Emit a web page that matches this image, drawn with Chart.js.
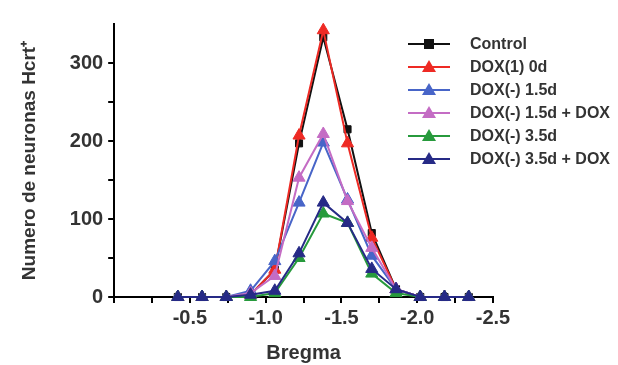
<!DOCTYPE html>
<html>
<head>
<meta charset="utf-8">
<script src="https://cdn.jsdelivr.net/npm/chart.js@4.4.1/dist/chart.umd.min.js"></script>
<style>
    html, body { margin: 0; padding: 0; background: #fff; }
    #wrap { position: relative; width: 618px; height: 365px; }
    #legend { position: absolute; left: 408px; top: 32px; font: bold 16px "Liberation Sans", Arial, sans-serif; color: #333; }
    .row { display: flex; align-items: center; height: 23px; }
    .row svg { margin-right: 20px; }
</style>
</head>
<body>
<div id="wrap">
    <canvas id="chart" width="618" height="365"></canvas>
    <div id="legend"></div>
</div>
<script>
// Bregma positions (mm) where neurons were counted
const bregma = [-0.42, -0.58, -0.74, -0.90, -1.06, -1.22, -1.38, -1.54, -1.70, -1.86, -2.02, -2.18, -2.34];

const seriesNames = ['Control', 'DOX(1) 0d', 'DOX(-) 1.5d', 'DOX(-) 1.5d + DOX', 'DOX(-) 3.5d', 'DOX(-) 3.5d + DOX'];
const control     = [0, 0, 0, 3, 35, 197, 333, 215, 82, 10, 0, 0, 0];
const dox0d       = [0, 0, 0, 3, 35, 207, 342, 197, 76, 10, 0, 0, 0];
const dox15d      = [0, 0, 0, 8, 46, 121, 198, 125, 53, 10, 0, 0, 0];
const dox15dDox   = [0, 0, 0, 5, 27, 153, 209, 123, 63, 10, 0, 0, 0];
const dox35d      = [0, 0, 0, 0, 5, 50, 107, 95, 30, 5, 0, 0, 0];
const dox35dDox   = [0, 0, 0, 3, 8, 56, 121, 95, 36, 10, 0, 0, 0];

const xTicks = [-0.5, -1.0, -1.5, -2.0, -2.5];
const yTicks = [0, 100, 200, 300];

const colors = ['#111111', '#ee2a24', '#4865c8', '#c46cc4', '#279a3c', '#262a86'];
const shapes = ['rect', 'triangle', 'triangle', 'triangle', 'triangle', 'triangle'];
const values = [control, dox0d, dox15d, dox15dDox, dox35d, dox35dDox];

const font = '"Liberation Sans", Arial, sans-serif';

const datasets = values.map((vals, i) => ({
    label: seriesNames[i],
    data: vals.map((v, j) => ({ x: bregma[j], y: v })),
    borderColor: colors[i],
    backgroundColor: colors[i],
    borderWidth: 2,
    pointStyle: shapes[i],
    pointRadius: shapes[i] === 'rect' ? 5 : 7,
    pointBorderWidth: 1,
    order: values.length - i,   // later series sit on top
    clip: false,
    tension: 0
}));

new Chart(document.getElementById('chart'), {
    type: 'line',
    data: { datasets },
    options: {
        responsive: false,
        animation: false,
        layout: { padding: { left: 10, right: 125, top: 24, bottom: 0 } },
        plugins: { legend: { display: false }, tooltip: { enabled: false } },
        scales: {
            x: {
                type: 'linear',
                reverse: true,
                min: -2.5,
                max: 0,
                ticks: {
                    stepSize: 0.25,
                    autoSkip: false,
                    maxRotation: 0,
                    color: '#333',
                    font: { family: font, size: 20, weight: 'bold' },
                    callback: v => xTicks.some(t => Math.abs(t - v) < 1e-6) ? v.toFixed(1) : ''
                },
                grid: { drawOnChartArea: false, color: '#000', lineWidth: 2, tickLength: 6 },
                border: { color: '#000', width: 2 },
                title: { display: true, text: 'Bregma', color: '#333', font: { family: font, size: 20, weight: 'bold' }, padding: { top: 8, bottom: 0 } }
            },
            y: {
                min: 0,
                max: 350,
                afterBuildTicks: axis => { axis.ticks = axis.ticks.filter(t => t.value < 350); },
                ticks: {
                    stepSize: 50,
                    padding: 5,
                    color: '#333',
                    font: { family: font, size: 20, weight: 'bold' },
                    callback: v => yTicks.includes(v) ? v : ''
                },
                grid: { drawOnChartArea: false, color: '#000', lineWidth: 2, tickLength: 6 },
                border: { color: '#000', width: 2 },
                title: { display: true, text: 'Numero de neuronas Hcrt⁺', color: '#333', font: { family: font, size: 19, weight: 'bold' }, padding: { top: 8, bottom: 24 } }
            }
        }
    }
});

// legend drawn over the plot, as in the figure
const legend = document.getElementById('legend');
seriesNames.forEach((name, i) => {
    const mark = shapes[i] === 'rect'
        ? `<rect x="16" y="3" width="10" height="10" fill="${colors[i]}"/>`
        : `<polygon points="21,1 28,13 14,13" fill="${colors[i]}"/>`;
    legend.insertAdjacentHTML('beforeend',
        `<div class="row"><svg width="42" height="16"><line x1="0" y1="8" x2="42" y2="8" stroke="${colors[i]}" stroke-width="2"/>${mark}</svg>${name}</div>`);
});
</script>
</body>
</html>
